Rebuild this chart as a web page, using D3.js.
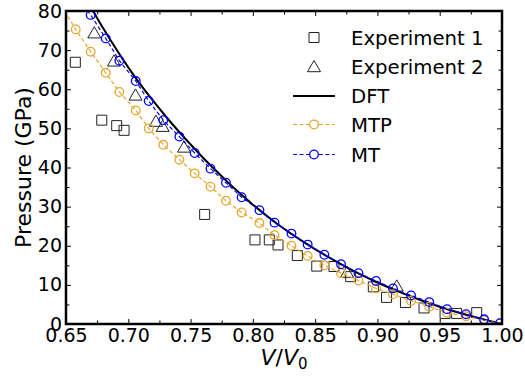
<!DOCTYPE html>
<html>
<head>
<meta charset="utf-8">
<script src="https://cdn.jsdelivr.net/npm/d3@7"></script>
<style>
  body { margin: 0; background: #fff; }
  text { font-family: "DejaVu Sans", sans-serif; }
</style>
</head>
<body>
<div id="chart"></div>
<script>
// measured points
const exp1V = [0.6575, 0.6787, 0.6907, 0.6966, 0.7613, 0.8017, 0.8132, 0.8202, 0.8357, 0.8513, 0.8651, 0.8785, 0.8967, 0.9073, 0.9225, 0.9374, 0.9543, 0.9636, 0.9797];
const exp1P = [66.9, 52.1, 50.7, 49.5, 28.0, 21.5, 21.5, 20.2, 17.5, 14.8, 14.7, 12.1, 9.5, 6.8, 5.5, 4.1, 2.7, 2.7, 2.9];

const exp2V = [0.6727, 0.6885, 0.7058, 0.7222, 0.7276, 0.7447, 0.8756, 0.9155];
const exp2P = [74.2, 67.0, 58.3, 51.6, 50.3, 45.0, 13.0, 9.5];

// DFT curve
const dftV = [0.665, 0.6717, 0.68, 0.69, 0.70, 0.71, 0.72, 0.73, 0.74, 0.75, 0.76, 0.77, 0.78, 0.79, 0.80, 0.82, 0.84, 0.86, 0.88, 0.90, 0.92, 0.94, 0.96, 0.98, 1.00];
const dftP = [83.5, 80.0, 75.5, 70.4, 65.6, 61.1, 57.0, 53.1, 49.4, 45.9, 42.5, 39.3, 36.2, 33.3, 30.5, 25.5, 21.1, 17.2, 13.7, 10.6, 7.9, 5.5, 3.4, 1.6, 0.0];

// model results, same volume grid
const gridV = [0.6460, 0.6578, 0.6698, 0.6819, 0.6928, 0.7060, 0.7164, 0.7281, 0.7410, 0.7533, 0.7660, 0.7784, 0.7910, 0.8053, 0.8174, 0.8310, 0.8440, 0.8574, 0.8708, 0.8848, 0.8989, 0.9125, 0.9270, 0.9416, 0.9559, 0.9711, 0.9856, 0.9984];
const mtpP = [81.5, 75.3, 69.6, 64.2, 59.3, 54.6, 50.0, 45.8, 42.0, 38.5, 35.1, 31.5, 28.5, 25.8, 22.7, 20.0, 17.4, 15.0, 13.0, 11.1, 9.1, 7.6, 5.9, 4.4, 2.9, 2.0, 1.0, 0.2];
const mtP = [null, 84.2, 79.0, 73.0, 67.3, 62.1, 57.0, 52.1, 47.9, 43.7, 39.7, 36.1, 32.4, 29.1, 25.9, 23.1, 20.3, 17.7, 15.3, 13.0, 11.0, 9.1, 7.3, 5.6, 3.8, 2.5, 1.2, 0.2];

const xTicks = [0.65, 0.70, 0.75, 0.80, 0.85, 0.90, 0.95, 1.00];
const xMinor = [0.675, 0.725, 0.775, 0.825, 0.875, 0.925, 0.975];
const yTicks = [0, 10, 20, 30, 40, 50, 60, 70, 80];
const yMinor = [5, 15, 25, 35, 45, 55, 65, 75];

const width = 525, height = 377;
const margin = { top: 11, right: 23, bottom: 53, left: 66 };

const svg = d3.select("#chart")
    .append("svg")
    .attr("width", width)
    .attr("height", height);

const xScale = d3.scaleLinear().domain([0.65, 1.0]).range([margin.left, width - margin.right]);
const yScale = d3.scaleLinear().domain([0, 80]).range([height - margin.bottom, margin.top]);

const orange = "#e6a52c", blue = "#0000ff", edge = "#222";

svg.append("clipPath").attr("id", "clip")
    .append("rect")
    .attr("x", margin.left).attr("y", margin.top)
    .attr("width", width - margin.left - margin.right)
    .attr("height", height - margin.top - margin.bottom);

const plot = svg.append("g").attr("clip-path", "url(#clip)");

const sqPath = d3.symbol().type(d3.symbolSquare).size(100)();
const triPath = "M0,-7L6.5,4.2L-6.5,4.2Z";

// experiment 1
plot.selectAll(".sq")
    .data(exp1V.map((v, i) => ({ v, p: exp1P[i] })))
    .enter().append("path")
    .attr("d", sqPath)
    .attr("transform", d => `translate(${xScale(d.v)},${yScale(d.p)})`)
    .attr("fill", "none").attr("stroke", edge).attr("stroke-width", 1);

// experiment 2
plot.selectAll(".tri")
    .data(exp2V.map((v, i) => ({ v, p: exp2P[i] })))
    .enter().append("path")
    .attr("d", triPath)
    .attr("transform", d => `translate(${xScale(d.v)},${yScale(d.p)})`)
    .attr("fill", "none").attr("stroke", edge).attr("stroke-width", 1);

// DFT
const dft = dftV.map((v, i) => ({ v, p: dftP[i] }));
plot.append("path")
    .datum(dft)
    .attr("fill", "none").attr("stroke", "#000").attr("stroke-width", 2)
    .attr("d", d3.line().x(d => xScale(d.v)).y(d => yScale(d.p)).curve(d3.curveCatmullRom));

// MTP and MT
function series(vals, color) {
    const pts = gridV.map((v, i) => ({ v, p: vals[i] })).filter(d => d.p !== null);
    plot.append("path")
        .datum(pts)
        .attr("fill", "none").attr("stroke", color).attr("stroke-width", 1.2)
        .attr("stroke-dasharray", "4,2.5")
        .attr("d", d3.line().x(d => xScale(d.v)).y(d => yScale(d.p)));
    plot.selectAll(null)
        .data(pts)
        .enter().append("circle")
        .attr("cx", d => xScale(d.v)).attr("cy", d => yScale(d.p))
        .attr("r", 4.3)
        .attr("fill", "none").attr("stroke", color).attr("stroke-width", 1.3);
}
series(mtpP, orange);
series(mtP, blue);

// axes
const x0 = margin.left, x1 = width - margin.right, y0 = height - margin.bottom, y1 = margin.top;

function styleAxis(g) {
    g.select(".domain").remove();
    g.selectAll("line").attr("stroke", "#000").attr("stroke-width", 1);
    g.selectAll("text").style("font-size", "19px").attr("fill", "#000");
}

svg.append("g").attr("transform", `translate(0,${y0})`)
    .call(d3.axisBottom(xScale).tickValues(xTicks).tickSize(-5).tickPadding(4).tickFormat(d3.format(".2f")))
    .call(styleAxis);
svg.append("g").attr("transform", `translate(0,${y0})`)
    .call(d3.axisBottom(xScale).tickValues(xMinor).tickSize(-3.5).tickFormat(""))
    .call(styleAxis);
svg.append("g").attr("transform", `translate(0,${y1})`)
    .call(d3.axisTop(xScale).tickValues(xTicks).tickSize(-5).tickFormat(""))
    .call(styleAxis);
svg.append("g").attr("transform", `translate(0,${y1})`)
    .call(d3.axisTop(xScale).tickValues(xMinor).tickSize(-3.5).tickFormat(""))
    .call(styleAxis);

svg.append("g").attr("transform", `translate(${x0},0)`)
    .call(d3.axisLeft(yScale).tickValues(yTicks).tickSize(-5).tickPadding(4))
    .call(styleAxis);
svg.append("g").attr("transform", `translate(${x0},0)`)
    .call(d3.axisLeft(yScale).tickValues(yMinor).tickSize(-3.5).tickFormat(""))
    .call(styleAxis);
svg.append("g").attr("transform", `translate(${x1},0)`)
    .call(d3.axisRight(yScale).tickValues(yTicks).tickSize(-5).tickFormat(""))
    .call(styleAxis);
svg.append("g").attr("transform", `translate(${x1},0)`)
    .call(d3.axisRight(yScale).tickValues(yMinor).tickSize(-3.5).tickFormat(""))
    .call(styleAxis);

// frame
svg.append("rect")
    .attr("x", x0).attr("y", y1)
    .attr("width", x1 - x0).attr("height", y0 - y1)
    .attr("fill", "none").attr("stroke", "#000").attr("stroke-width", 2.5);

// axis labels
const xl = svg.append("text")
    .attr("x", (x0 + x1) / 2).attr("y", 365)
    .attr("text-anchor", "middle")
    .style("font-size", "22px");
xl.append("tspan").style("font-style", "italic").text("V");
xl.append("tspan").text("/");
xl.append("tspan").style("font-style", "italic").text("V");
xl.append("tspan").attr("dy", 4).style("font-size", "15px").text("0");

svg.append("text")
    .attr("transform", "rotate(-90)")
    .attr("x", -(y0 + y1) / 2)
    .attr("y", 31)
    .attr("text-anchor", "middle")
    .style("font-size", "22px")
    .text("Pressure (GPa)");

// legend
const legend = svg.append("g");
const lx = 314, tx = 351;
const rows = [37.5, 66.5, 96, 124.5, 154.5];
legend.append("path").attr("d", sqPath).attr("transform", `translate(${lx},${rows[0]})`)
    .attr("fill", "none").attr("stroke", edge);
legend.append("path").attr("d", triPath).attr("transform", `translate(${lx},${rows[1] + 1})`)
    .attr("fill", "none").attr("stroke", edge);
legend.append("line").attr("x1", 293).attr("x2", 335).attr("y1", rows[2]).attr("y2", rows[2])
    .attr("stroke", "#000").attr("stroke-width", 2);
[[rows[3], orange], [rows[4], blue]].forEach(([ry, c]) => {
    legend.append("line").attr("x1", 293).attr("x2", 335).attr("y1", ry).attr("y2", ry)
        .attr("stroke", c).attr("stroke-width", 1.2).attr("stroke-dasharray", "4,2.5");
    legend.append("circle").attr("cx", lx).attr("cy", ry).attr("r", 4.3)
        .attr("fill", "#fff").attr("stroke", c).attr("stroke-width", 1.3);
});
["Experiment 1", "Experiment 2", "DFT", "MTP", "MT"].forEach((t, i) => {
    legend.append("text")
        .attr("x", tx).attr("y", rows[i])
        .attr("dy", "0.36em")
        .style("font-size", "19.7px")
        .text(t);
});
</script>
</body>
</html>
